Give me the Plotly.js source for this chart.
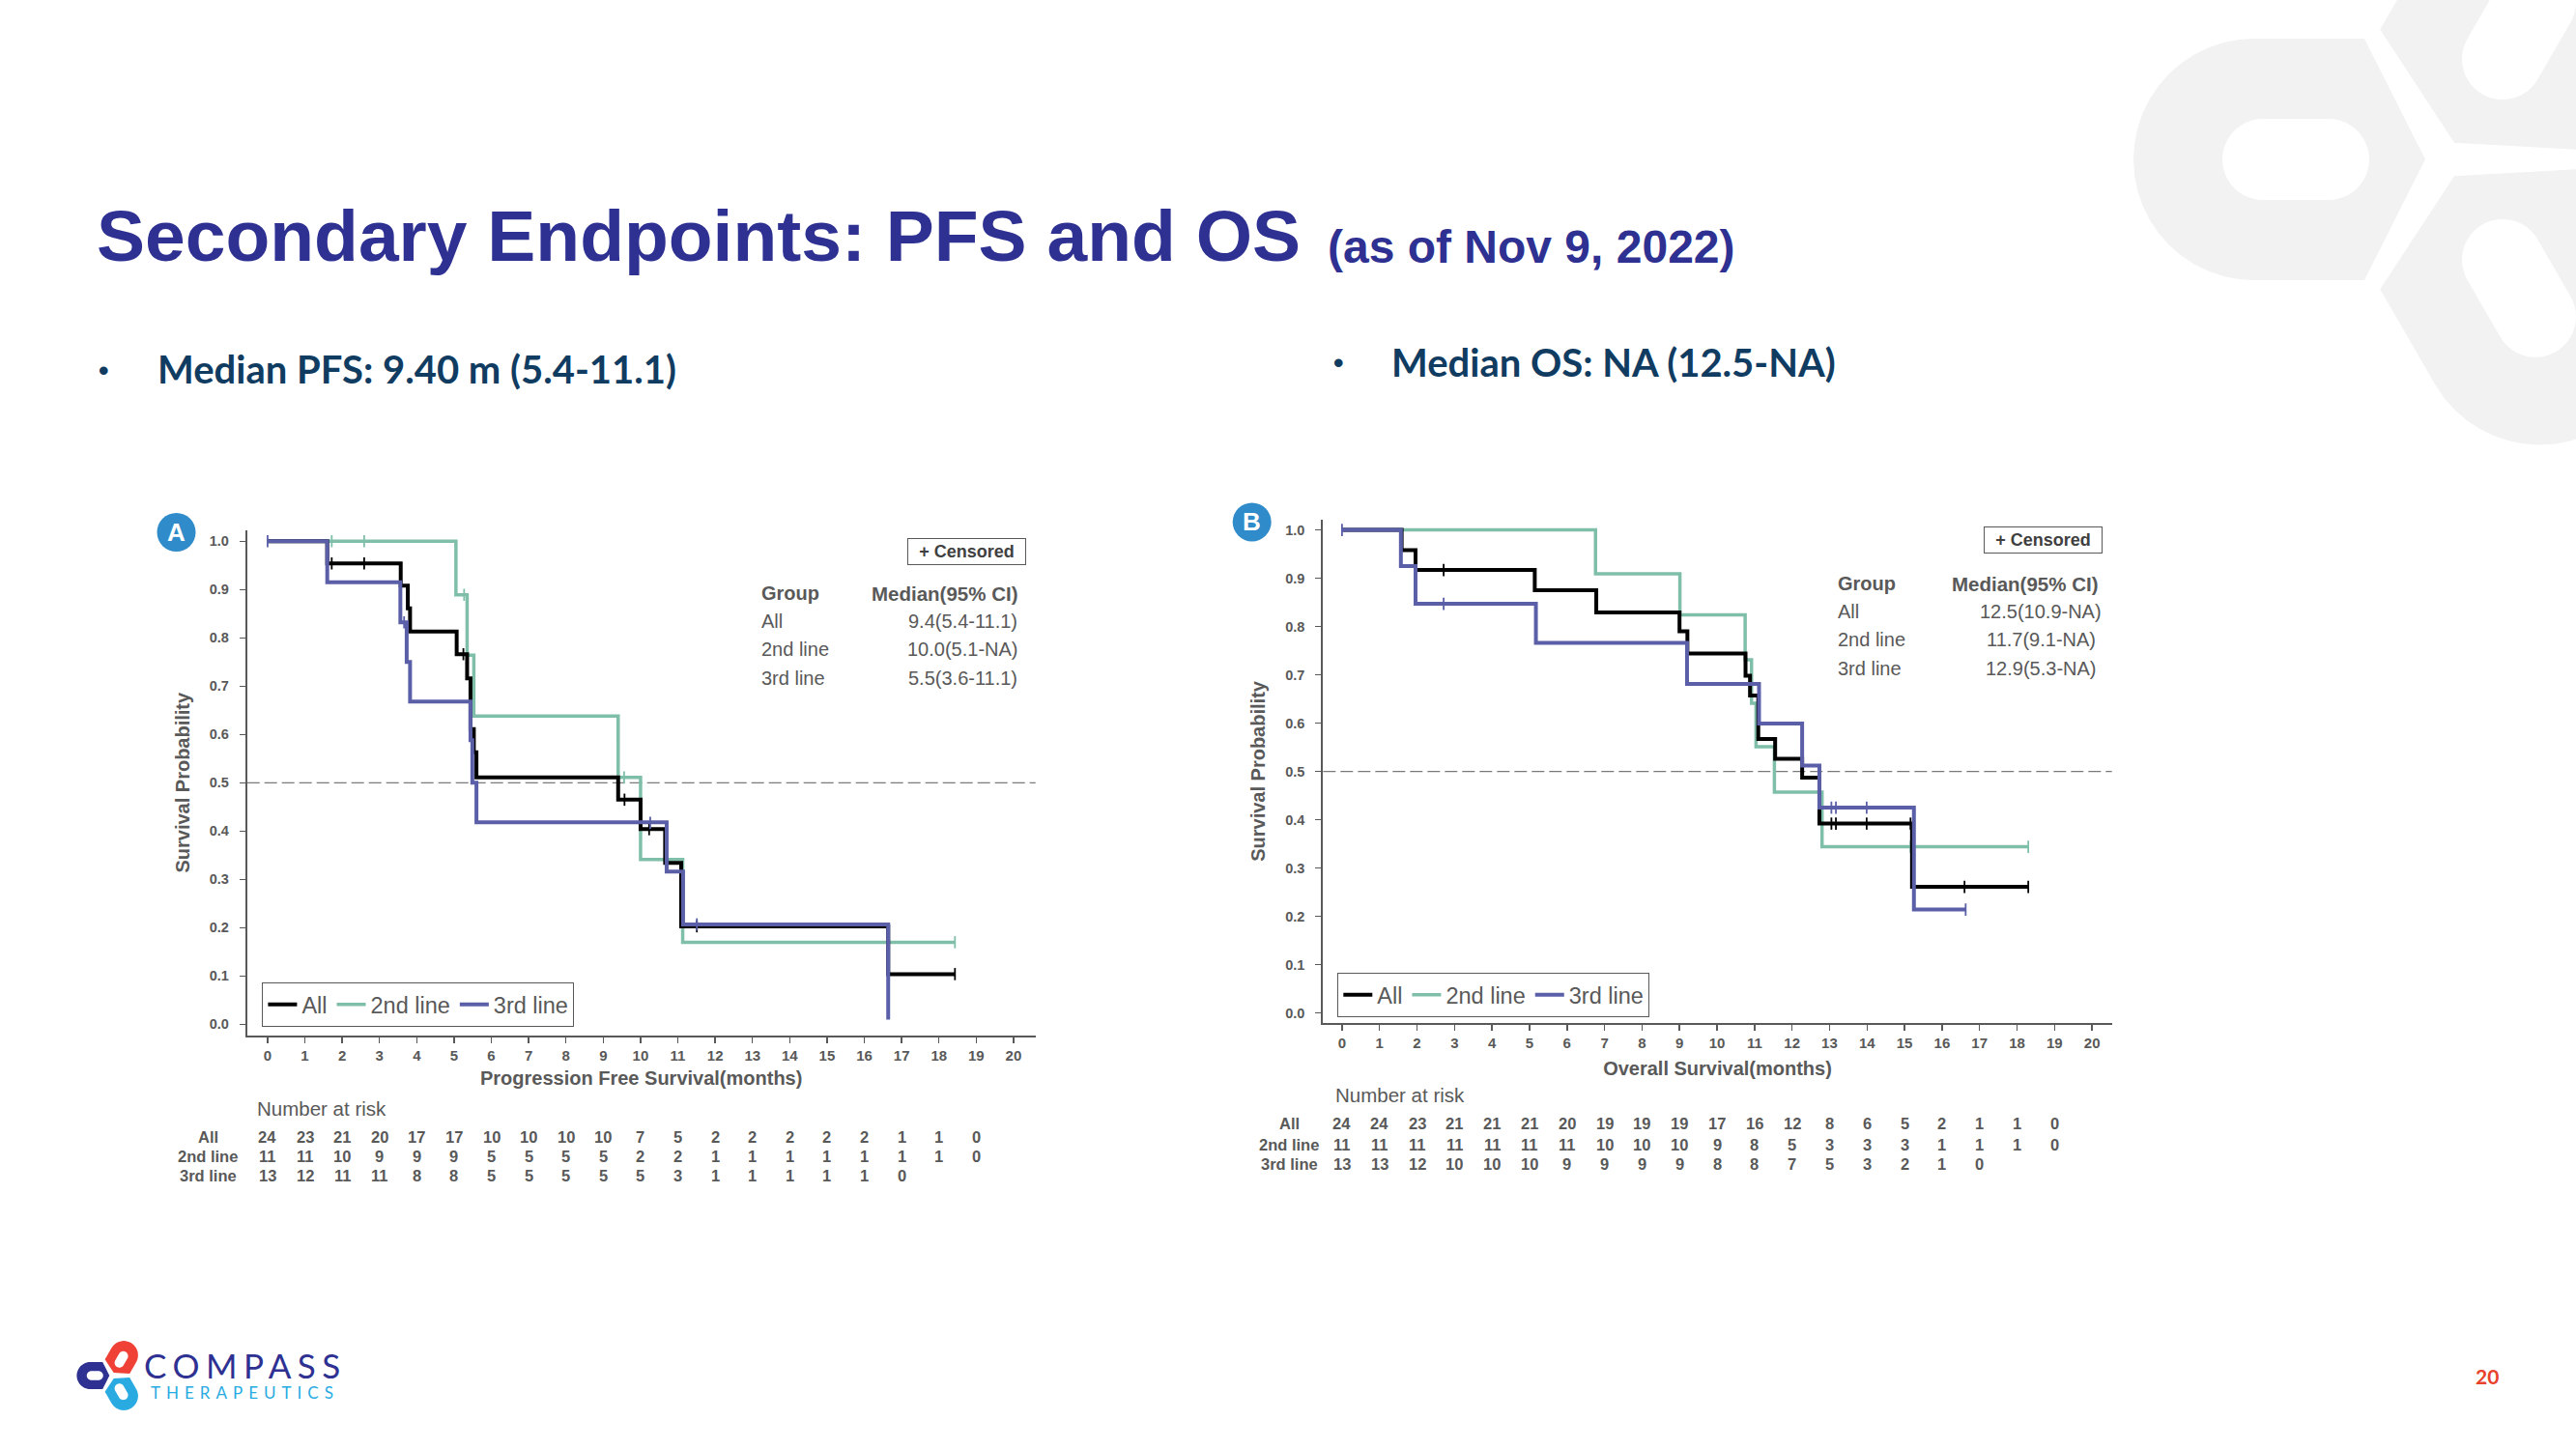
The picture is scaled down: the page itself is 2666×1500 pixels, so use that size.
<!DOCTYPE html>
<html>
<head>
<meta charset="utf-8">
<script src="https://cdn.plot.ly/plotly-3.0.1.min.js"></script>
<style>
html, body { margin: 0; padding: 0; background: #ffffff; }
#chart { width: 2666px; height: 1500px; }
</style>
</head>
<body>
<div id="chart"></div>
<script>
// ===================== DATA =====================
const groups = ['All', '2nd line', '3rd line'];
const monthTicks = [0,1,2,3,4,5,6,7,8,9,10,11,12,13,14,15,16,17,18,19,20];

// ---- PFS (panel A) : Kaplan-Meier step points ----
const pfsAllT = [0, 1.60, 3.57, 3.76, 3.82, 5.07, 5.35, 5.44, 5.53, 5.60, 9.40, 10.00, 10.66, 11.09, 16.64, 18.43];
const pfsAllS = [1.0, 0.954, 0.908, 0.861, 0.813, 0.766, 0.716, 0.611, 0.563, 0.511, 0.465, 0.404, 0.334, 0.203, 0.104, 0.104];
const pfsAllCensT = [1.72, 2.59, 5.25, 9.57, 10.23, 11.51, 18.43];
const pfsAllCensS = [0.954, 0.954, 0.766, 0.465, 0.404, 0.203, 0.104];

const pfs2T = [0, 5.05, 5.35, 5.53, 9.40, 10.00, 11.13, 18.43];
const pfs2S = [1.0, 0.889, 0.764, 0.638, 0.511, 0.341, 0.170, 0.170];
const pfs2CensT = [1.72, 2.59, 5.27, 9.56, 18.43];
const pfs2CensS = [1.0, 1.0, 0.889, 0.511, 0.170];

const pfs3T = [0, 1.60, 3.56, 3.73, 3.82, 5.44, 5.49, 5.60, 10.70, 11.14, 16.64];
const pfs3S = [1.0, 0.915, 0.832, 0.750, 0.668, 0.588, 0.500, 0.418, 0.316, 0.207, 0.010];
const pfs3CensT = [0, 3.66, 10.26, 11.51];
const pfs3CensS = [1.0, 0.832, 0.417, 0.207];

// ---- OS (panel B) ----
const osAllT = [0, 1.59, 1.96, 5.14, 6.78, 9.00, 9.21, 10.76, 10.88, 11.10, 11.55, 12.27, 12.73, 15.20, 18.30];
const osAllS = [1.0, 0.958, 0.917, 0.875, 0.829, 0.790, 0.744, 0.698, 0.657, 0.567, 0.526, 0.487, 0.392, 0.261, 0.261];
const osAllCensT = [2.71, 13.05, 13.17, 13.99, 15.16, 16.60, 18.30];
const osAllCensS = [0.917, 0.392, 0.392, 0.392, 0.392, 0.261, 0.261];

const os2T = [0, 6.76, 9.01, 10.75, 10.92, 11.04, 11.53, 12.80, 18.30];
const os2S = [1.0, 0.909, 0.824, 0.731, 0.641, 0.551, 0.457, 0.344, 0.344];
const os2CensT = [15.16, 18.30];
const os2CensS = [0.344, 0.344];

const os3T = [0, 1.57, 1.96, 5.17, 9.20, 11.12, 12.27, 12.73, 15.25, 16.63];
const os3S = [1.0, 0.925, 0.847, 0.766, 0.681, 0.599, 0.512, 0.425, 0.214, 0.214];
const os3CensT = [0, 2.71, 13.05, 13.17, 13.99, 16.63];
const os3CensS = [1.0, 0.847, 0.425, 0.425, 0.425, 0.214];

// ---- Number at risk (months 0,1,2,...) ----
const pfsRiskAll = [24, 23, 21, 20, 17, 17, 10, 10, 10, 10, 7, 5, 2, 2, 2, 2, 2, 1, 1, 0];
const pfsRisk2   = [11, 11, 10, 9, 9, 9, 5, 5, 5, 5, 2, 2, 1, 1, 1, 1, 1, 1, 1, 0];
const pfsRisk3   = [13, 12, 11, 11, 8, 8, 5, 5, 5, 5, 5, 3, 1, 1, 1, 1, 1, 0];
const osRiskAll  = [24, 24, 23, 21, 21, 21, 20, 19, 19, 19, 17, 16, 12, 8, 6, 5, 2, 1, 1, 0];
const osRisk2    = [11, 11, 11, 11, 11, 11, 11, 10, 10, 10, 9, 8, 5, 3, 3, 3, 1, 1, 1, 0];
const osRisk3    = [13, 13, 12, 10, 10, 10, 9, 9, 9, 9, 8, 8, 7, 5, 3, 2, 1, 0];

// ---- Median tables ----
const pfsMedians = ['9.4(5.4-11.1)', '10.0(5.1-NA)', '5.5(3.6-11.1)'];
const osMedians  = ['12.5(10.9-NA)', '11.7(9.1-NA)', '12.9(5.3-NA)'];

// ---- Texts ----
const titleMain = 'Secondary Endpoints: PFS and OS';
const titleSub = '(as of Nov 9, 2022)';
const bulletPFS = 'Median PFS: 9.40 m (5.4-11.1)';
const bulletOS = 'Median OS: NA (12.5-NA)';

// ===================== STYLE / LAYOUT =====================
const F = '"Liberation Sans", Arial, sans-serif';
const GRAY = '#595959';
const C_ALL = '#000000', C_2 = '#7fbfa9', C_3 = '#5a5fa8';
const W = 2666, H = 1500;
const px = v => v / W;
const py = v => 1 - v / H;

const traces = [];
function addGroup(t, s, ct, cs, color, name, xa, ya, legend, rank, width) {
  traces.push({type: 'scatter', mode: 'lines', x: t, y: s, name: name,
    line: {shape: 'hv', color: color, width: width}, xaxis: xa, yaxis: ya,
    legend: legend, legendrank: rank, hoverinfo: 'skip'});
  traces.push({type: 'scatter', mode: 'markers', x: ct, y: cs, name: name + ' censored',
    showlegend: false, marker: {symbol: 'line-ns', size: 9, color: color, line: {color: color, width: 1.8}},
    xaxis: xa, yaxis: ya, hoverinfo: 'skip'});
}
// draw order: 2nd line, All, 3rd line (legend order by rank)
addGroup(pfs2T, pfs2S, pfs2CensT, pfs2CensS, C_2, groups[1], 'x', 'y', 'legend', 2, 3.5);
addGroup(pfsAllT, pfsAllS, pfsAllCensT, pfsAllCensS, C_ALL, groups[0], 'x', 'y', 'legend', 1, 4);
addGroup(pfs3T, pfs3S, pfs3CensT, pfs3CensS, C_3, groups[2], 'x', 'y', 'legend', 3, 4);
addGroup(os2T, os2S, os2CensT, os2CensS, C_2, groups[1], 'x2', 'y2', 'legend2', 2, 3.5);
addGroup(osAllT, osAllS, osAllCensT, osAllCensS, C_ALL, groups[0], 'x2', 'y2', 'legend2', 1, 4);
addGroup(os3T, os3S, os3CensT, os3CensS, C_3, groups[2], 'x2', 'y2', 'legend2', 3, 4);

function xAxis(domain, range, title, standoff, anchor) {
  return {domain: domain, range: range, anchor: anchor, tickmode: 'array', tickvals: monthTicks,
    ticktext: monthTicks.map(String), ticks: 'outside', ticklen: 6, tickwidth: 1.5, tickcolor: GRAY,
    showline: true, linecolor: GRAY, linewidth: 2, showgrid: false, zeroline: false,
    tickfont: {family: F, size: 15, color: GRAY, weight: 'bold'},
    title: {text: title, font: {family: F, size: 20, color: GRAY, weight: 'bold'}, standoff: standoff}};
}
function yAxis(domain, range, anchor) {
  return {domain: domain, range: range, anchor: anchor, tickmode: 'linear', tick0: 0, dtick: 0.1,
    tickformat: '.1f', ticks: 'outside', ticklen: 6, tickwidth: 1.5, tickcolor: GRAY,
    ticklabelstandoff: 8,
    showline: true, linecolor: GRAY, linewidth: 2, showgrid: false, zeroline: false,
    tickfont: {family: F, size: 14.5, color: GRAY, weight: 'bold'},
    title: {text: 'Survival Probability', font: {family: F, size: 20, color: GRAY, weight: 'bold'}, standoff: 15}};
}

const annotations = [];
function txt(text, x, y, o) {
  o = o || {};
  annotations.push(Object.assign({xref: 'paper', yref: 'paper', x: px(x), y: py(y), text: text,
    showarrow: false, xanchor: 'left', yanchor: 'middle',
    font: {family: F, size: 16, color: GRAY}}, o));
}

// Title and bullets
txt(titleMain, 98, 244, {font: {family: F, size: 75, color: '#2e3192', weight: 'bold'}});
txt(titleSub, 1372, 255, {font: {family: F, size: 48, color: '#2e3192', weight: 'bold'}});
const BF = 'Lato, "Open Sans", sans-serif';
txt('•', 107, 383, {xanchor: 'center', font: {family: F, size: 30, color: '#113c62', weight: 'bold'}});
txt(bulletPFS, 161, 382, {font: {family: BF, size: 40, color: '#113c62', weight: 'bold'}});
txt('•', 1386, 376, {xanchor: 'center', font: {family: F, size: 30, color: '#113c62', weight: 'bold'}});
txt(bulletOS, 1438, 375, {font: {family: BF, size: 40, color: '#113c62', weight: 'bold'}});

// Panel badges
const shapes = [];
function badge(letter, cx, cy) {
  shapes.push({type: 'circle', xref: 'paper', yref: 'paper', x0: px(cx - 20), x1: px(cx + 20),
    y0: py(cy + 20), y1: py(cy - 20), fillcolor: '#2f8bc9', line: {width: 0}, layer: 'above'});
  txt(letter, cx, cy, {xanchor: 'center', font: {family: F, size: 26, color: '#ffffff', weight: 'bold'}});
}
badge('A', 182.5, 551);
badge('B', 1295.7, 540.4);

// Censored boxes
function censBox(cx, cy) {
  txt('+ Censored', cx, cy, {xanchor: 'center', width: 119, height: 24, borderpad: 1, bordercolor: GRAY,
    borderwidth: 1, font: {family: F, size: 18, color: '#404040', weight: 'bold'}});
}
censBox(1000.8, 570.9);
censBox(2114, 559.1);

// Median tables
function medTable(leftX, headCenterX, valCenterX, headY, rowYs, vals) {
  txt('Group', leftX, headY, {font: {family: F, size: 20, color: GRAY, weight: 'bold'}});
  txt('Median(95% CI)', headCenterX, headY, {xanchor: 'center', font: {family: F, size: 20.5, color: GRAY, weight: 'bold'}});
  groups.forEach((g, i) => {
    txt(g, leftX, rowYs[i], {font: {family: F, size: 20, color: GRAY}});
    txt(vals[i], valCenterX, rowYs[i], {xanchor: 'center', font: {family: F, size: 20, color: GRAY}});
  });
}
medTable(786, 978, 996, 614, [642.7, 671.8, 702], pfsMedians);
medTable(1900, 2096, 2112, 604, [632.5, 662, 691.5], osMedians);

// Number at risk
function riskTable(xref, headX, headY, labelX, rowYs, rows) {
  txt('Number at risk', headX, headY, {font: {family: F, size: 20.5, color: GRAY}});
  rows.forEach((vals, r) => {
    txt(groups[r], labelX, rowYs[r], {xanchor: 'center', font: {family: F, size: 16.5, color: GRAY, weight: 'bold'}});
    vals.forEach((v, i) => {
      annotations.push({xref: xref, yref: 'paper', x: monthTicks[i], y: py(rowYs[r]), text: String(v),
        showarrow: false, xanchor: 'center', yanchor: 'middle',
        font: {family: F, size: 16.5, color: GRAY, weight: 'bold'}});
    });
  });
}
riskTable('x', 264, 1147, 215, [1176.7, 1196.7, 1216.7], [pfsRiskAll, pfsRisk2, pfsRisk3]);
riskTable('x2', 1380, 1133, 1334, [1163.3, 1185, 1205], [osRiskAll, osRisk2, osRisk3]);

// 0.5 reference lines
['', '2'].forEach(k => {
  shapes.push({type: 'line', xref: 'x' + k + ' domain', yref: 'y' + k, x0: 0, x1: 1, y0: 0.5, y1: 0.5,
    line: {color: '#7a7a7a', width: 1.3, dash: '13px,5px'}, layer: 'below'});
});

// Logo shapes (watermark and footer logo)
function linkShapes(ox, oy, angDeg, sc, color, holeColor, layer) {
  const a = angDeg * Math.PI / 180;
  const u = [Math.cos(a), -Math.sin(a)];
  const v = [-u[1], u[0]];
  const P = (d, w) => [ox + sc * (d * u[0] + w * v[0]), oy + sc * (d * u[1] + w * v[1])];
  const R = 125, dc = 197, ds = 83, hr = 42, h0 = 120, h1 = 188;
  const outer = [P(20, 0), P(ds, R), P(dc, R)];
  for (let k = 1; k < 24; k++) { const th = Math.PI * k / 24; outer.push(P(dc + R * Math.sin(th), R * Math.cos(th))); }
  outer.push(P(dc, -R), P(ds, -R));
  const hole = [P(h0, hr), P(h1, hr)];
  for (let k = 1; k < 24; k++) { const th = Math.PI * k / 24; hole.push(P(h1 + hr * Math.sin(th), hr * Math.cos(th))); }
  hole.push(P(h1, -hr), P(h0, -hr));
  for (let k = 1; k < 24; k++) { const th = Math.PI * k / 24; hole.push(P(h0 - hr * Math.sin(th), -hr * Math.cos(th))); }
  const toPath = pts => 'M ' + pts.map(p => px(p[0]).toFixed(5) + ',' + py(p[1]).toFixed(5)).join(' L ') + ' Z';
  shapes.push({type: 'path', xref: 'paper', yref: 'paper', path: toPath(outer), fillcolor: color, line: {width: 0}, layer: layer});
  shapes.push({type: 'path', xref: 'paper', yref: 'paper', path: toPath(hole), fillcolor: holeColor, line: {width: 0}, layer: layer});
}
// watermark
linkShapes(2530, 165, 180, 1, '#f2f2f2', '#ffffff', 'below');
linkShapes(2530, 165, 60, 1, '#f2f2f2', '#ffffff', 'below');
linkShapes(2530, 165, -60, 1, '#f2f2f2', '#ffffff', 'below');
// footer logo
linkShapes(115.5, 1424, 180, 0.112, '#2e3192', '#ffffff', 'above');
linkShapes(116.5, 1423, 60, 0.118, '#ef4136', '#ffffff', 'above');
linkShapes(116.5, 1425, -60, 0.118, '#29abe2', '#ffffff', 'above');
txt('COMPASS', 147, 1413, {font: {family: 'Lato, "Noto Sans", sans-serif', size: 35, color: '#2e3192'}, align: 'left'});
txt('THERAPEUTICS', 154, 1441, {font: {family: 'Lato, "Noto Sans", sans-serif', size: 17, color: '#29abe2'}, align: 'left'});

// page number
txt('20', 2574, 1424, {xanchor: 'center', font: {family: 'Lato, "Noto Sans", sans-serif', size: 21, color: '#e8412c', weight: 'bold'}});

const legendBase = {orientation: 'h', xanchor: 'left', yanchor: 'top', bgcolor: '#ffffff',
  bordercolor: GRAY, borderwidth: 1, font: {family: F, size: 23.5, color: GRAY}, itemwidth: 30,
  traceorder: 'normal'};

const layout = {
  width: W, height: H,
  margin: {l: 0, r: 0, t: 0, b: 0, pad: 0},
  paper_bgcolor: '#ffffff', plot_bgcolor: 'rgba(0,0,0,0)',
  showlegend: true,
  xaxis: xAxis([px(255.7), px(1071.7)], [-0.55, 20.59], 'Progression Free Survival(months)', 9, 'y'),
  yaxis: yAxis([py(1071.8), py(548.6)], [-0.0228, 1.0234], 'x'),
  xaxis2: xAxis([px(1369.3), px(2185.7)], [-0.505, 20.53], 'Overall Survival(months)', 12, 'y2'),
  yaxis2: yAxis([py(1059), py(537.9)], [-0.0208, 1.0214], 'x2'),
  legend: Object.assign({x: px(271.4), y: py(1017)}, legendBase),
  legend2: Object.assign({x: px(1384.3), y: py(1007)}, legendBase),
  annotations: annotations,
  shapes: shapes
};

Plotly.newPlot('chart', traces, layout, {displayModeBar: false, staticPlot: true}).then(() => {
  document.querySelectorAll('text.annotation-text').forEach(t => {
    if (t.textContent === 'COMPASS') t.setAttribute('letter-spacing', '6.5px');
    if (t.textContent === 'THERAPEUTICS') t.setAttribute('letter-spacing', '6px');
  });
});
</script>
</body>
</html>
